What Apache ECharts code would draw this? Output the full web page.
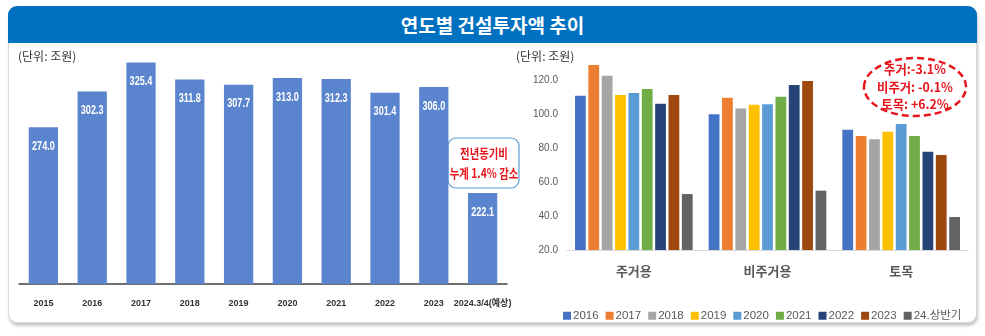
<!DOCTYPE html>
<html>
<head>
<meta charset="utf-8">
<script src="https://cdn.jsdelivr.net/npm/echarts@6/dist/echarts.min.js"></script>
<style>
html,body{margin:0;padding:0;background:#fff;width:985px;height:336px;overflow:hidden;}
#panel{position:absolute;left:8px;top:6px;width:969px;height:317px;border:1px solid #d8d8d8;border-radius:9px;box-shadow:1px 3px 3px rgba(0,0,0,0.22);background:#fff;box-sizing:border-box;}
#title{position:absolute;left:8px;top:6px;width:969px;height:37px;background:#0070C0;border-radius:9px 9px 0 0;color:#fff;font-family:'Noto Sans CJK KR',sans-serif;font-weight:bold;font-size:19px;line-height:37px;text-align:center;}
#chart{position:absolute;left:0;top:0;width:985px;height:336px;}
</style>
</head>
<body>
<div id="panel"></div>
<div id="title">연도별 건설투자액 추이</div>
<div id="chart"></div>
<script>
// Left chart: annual construction investment (조원)
const yearCats = ['2015','2016','2017','2018','2019','2020','2021','2022','2023','2024.3/4(예상)'];
const yearVals = [274.0, 302.3, 325.4, 311.8, 307.7, 313.0, 312.3, 301.4, 306.0, 222.1];

// Right chart: by type
const typeCats = ['주거용','비주거용','토목'];
const seriesNames = ['2016','2017','2018','2019','2020','2021','2022','2023','24.상반기'];
const s2016 = [110.8, 99.8, 90.8];
const s2017 = [128.8, 109.6, 87.1];
const s2018 = [122.5, 103.3, 85.1];
const s2019 = [111.2, 105.5, 89.6];
const s2020 = [112.4, 105.7, 94.1];
const s2021 = [114.7, 110.2, 87.1];
const s2022 = [106.1, 117.0, 77.8];
const s2023 = [111.2, 119.4, 75.9];
const s2024h = [52.9, 54.9, 39.4];
const typeSeries = [s2016, s2017, s2018, s2019, s2020, s2021, s2022, s2023, s2024h];
const typeColors = ['#4472C4','#ED7D31','#A5A5A5','#FFC000','#5B9BD5','#70AD47','#264478','#9E480E','#636363'];

const sans = "'Liberation Sans','Noto Sans CJK KR',sans-serif";
const kr = "'Noto Sans CJK KR','Noto Sans',sans-serif";

const chart = echarts.init(document.getElementById('chart'));

const series = [{
  type: 'bar',
  xAxisIndex: 0, yAxisIndex: 0,
  data: yearVals,
  barCategoryGap: '40%',
  itemStyle: {color: '#5B84CF'},
  silent: true
}, {
  // value labels inside the bars, horizontally condensed like the original
  type: 'custom',
  xAxisIndex: 0, yAxisIndex: 0,
  data: yearVals.map((v, i) => [i, v]),
  silent: true, z: 5,
  renderItem: (params, api) => {
    const p = api.coord([api.value(0), api.value(1)]);
    return {
      type: 'text', x: p[0], y: p[1] + 19, scaleX: 0.7,
      style: {text: api.value(1).toFixed(1), fill: '#fff', font: "bold 13px 'Liberation Sans'",
        textAlign: 'center', textVerticalAlign: 'middle', align: 'center', verticalAlign: 'middle'}
    };
  }
}];
typeSeries.forEach((d, i) => {
  series.push({
    type: 'bar', name: seriesNames[i],
    xAxisIndex: 1, yAxisIndex: 1,
    data: d,
    barCategoryGap: '12%', barGap: '24%',
    itemStyle: {color: typeColors[i]},
    silent: true
  });
});

chart.setOption({
  animation: false,
  grid: [
    {left: 19, right: 478, top: 44, bottom: 52},
    {left: 567, right: 17, top: 63, bottom: 86}
  ],
  xAxis: [
    {type: 'category', gridIndex: 0, data: yearCats,
     axisLine: {lineStyle: {color: '#404040', width: 1.5}},
     axisTick: {show: false},
     axisLabel: {color: '#333', fontSize: 9, fontWeight: 'bold', fontFamily: sans, margin: 15, interval: 0}},
    {type: 'category', gridIndex: 1, data: typeCats,
     axisLine: {lineStyle: {color: '#D9D9D9', width: 1}},
     axisTick: {show: false},
     axisLabel: {color: '#595959', fontSize: 13, fontWeight: 'bold', fontFamily: kr, margin: 15}}
  ],
  yAxis: [
    {type: 'value', gridIndex: 0, min: 150, max: 340, show: false},
    {type: 'value', gridIndex: 1, min: 20, max: 130, interval: 20,
     axisLine: {show: false}, axisTick: {show: false}, splitLine: {show: false},
     axisLabel: {color: '#595959', fontSize: 10, fontFamily: sans, margin: 9, showMaxLabel: false,
       formatter: v => v.toFixed(1)}}
  ],
  legend: {
    data: seriesNames, left: 558, top: 305,
    itemWidth: 8, itemHeight: 8, itemGap: 7, icon: 'rect',
    textStyle: {color: '#595959', fontSize: 11.5, fontFamily: sans, padding: [0, 0, 0, -3]}
  },
  graphic: [
    {type: 'text', left: 18, top: 50, style: {text: '(단위: 조원)', fill: '#333', font: "12px 'Noto Sans CJK KR'"}},
    {type: 'text', left: 516, top: 50, style: {text: '(단위: 조원)', fill: '#333', font: "12px 'Noto Sans CJK KR'"}},
    {type: 'rect', shape: {x: 448, y: 138, width: 71, height: 50, r: 8},
     style: {fill: '#fff', stroke: '#5B9BD5', lineWidth: 1.2}},
    {type: 'text', x: 484, y: 163, scaleX: 0.8,
     style: {text: '전년동기비\n누계 1.4% 감소', fill: '#E8141B', font: "bold 13px 'Noto Sans CJK KR'",
       textAlign: 'center', textVerticalAlign: 'middle', lineHeight: 20}},
    {type: 'ellipse', shape: {cx: 915, cy: 87, rx: 51, ry: 29},
     style: {fill: 'rgba(255,255,255,0)', stroke: '#E8141B', lineWidth: 2.5, lineDash: [7, 4]}},
    {type: 'text', x: 915, y: 87, scaleX: 0.95,
     style: {text: '주거:-3.1%\n비주거: -0.1%\n토목: +6.2%', fill: '#E8141B', font: "bold 13px 'Noto Sans CJK KR'",
       textAlign: 'center', textVerticalAlign: 'middle', lineHeight: 17.5}}
  ],
  series: series
});
</script>
</body>
</html>
